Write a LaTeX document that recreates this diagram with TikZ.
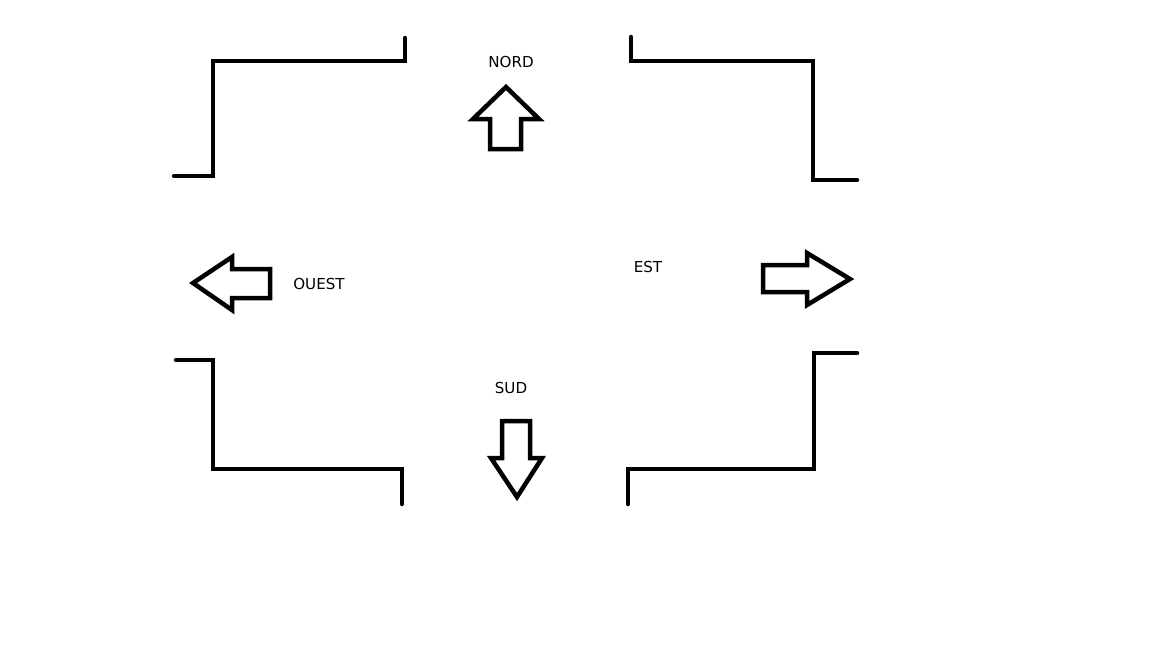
\documentclass[tikz,border=0pt]{standalone}
\usepackage{fontspec}
\setmainfont{DejaVu Sans}
\usepackage{tikz}
\usetikzlibrary{positioning}

\tikzset{
    wall/.style={line width=0.045cm, line cap=round},
    bigarrow/.style={line width=0.045cm, line join=miter, fill=white},
    dirlabel/.style={font=\fontsize{4.3}{5}\selectfont, inner sep=0pt}
}

\begin{document}
\begin{tikzpicture}[x=0.01cm, y=-0.01cm]
                \useasboundingbox (0,0) rectangle (1152,648);

                % walls
                \draw[
                    wall
                ] (174,176) -- (213,176) -- (213,61) -- (405,61) -- (405,38);

                \draw[
                    wall
                ] (631,37) -- (631,61) -- (813,61) -- (813,180) -- (857,180);

                \draw[
                    wall
                ] (176,360) -- (213,360) -- (213,469) -- (402,469) -- (402,504);

                \draw[
                    wall
                ] (857,353) -- (814,353) -- (814,469) -- (628,469) -- (628,504);

                % arrows
                \draw[
                    bigarrow
                ] (506,87) -- (539,119) -- (521,119) -- (521,149) -- (490,149) -- (490,119) -- (473,119) -- cycle;

                \draw[
                    bigarrow
                ] (193,283) -- (232,257) -- (232,269) -- (270,269) -- (270,298) -- (232,298) -- (232,310) -- cycle;

                \draw[
                    bigarrow
                ] (850,279) -- (807,253) -- (807,265) -- (763,265) -- (763,292) -- (807,292) -- (807,305) -- cycle;

                \draw[
                    bigarrow
                ] (517,497) -- (542,458) -- (530,458) -- (530,421) -- (502,421) -- (502,458) -- (491,458) -- cycle;

                % labels
                \node[dirlabel] (nord) at (511,62) {NORD};
                \node[dirlabel] (ouest) at (319,284) {OUEST};
                \node[dirlabel] (est) at (648,267) {EST};
                \node[dirlabel] (sud) at (511,388) {SUD};

\end{tikzpicture}
\end{document}
